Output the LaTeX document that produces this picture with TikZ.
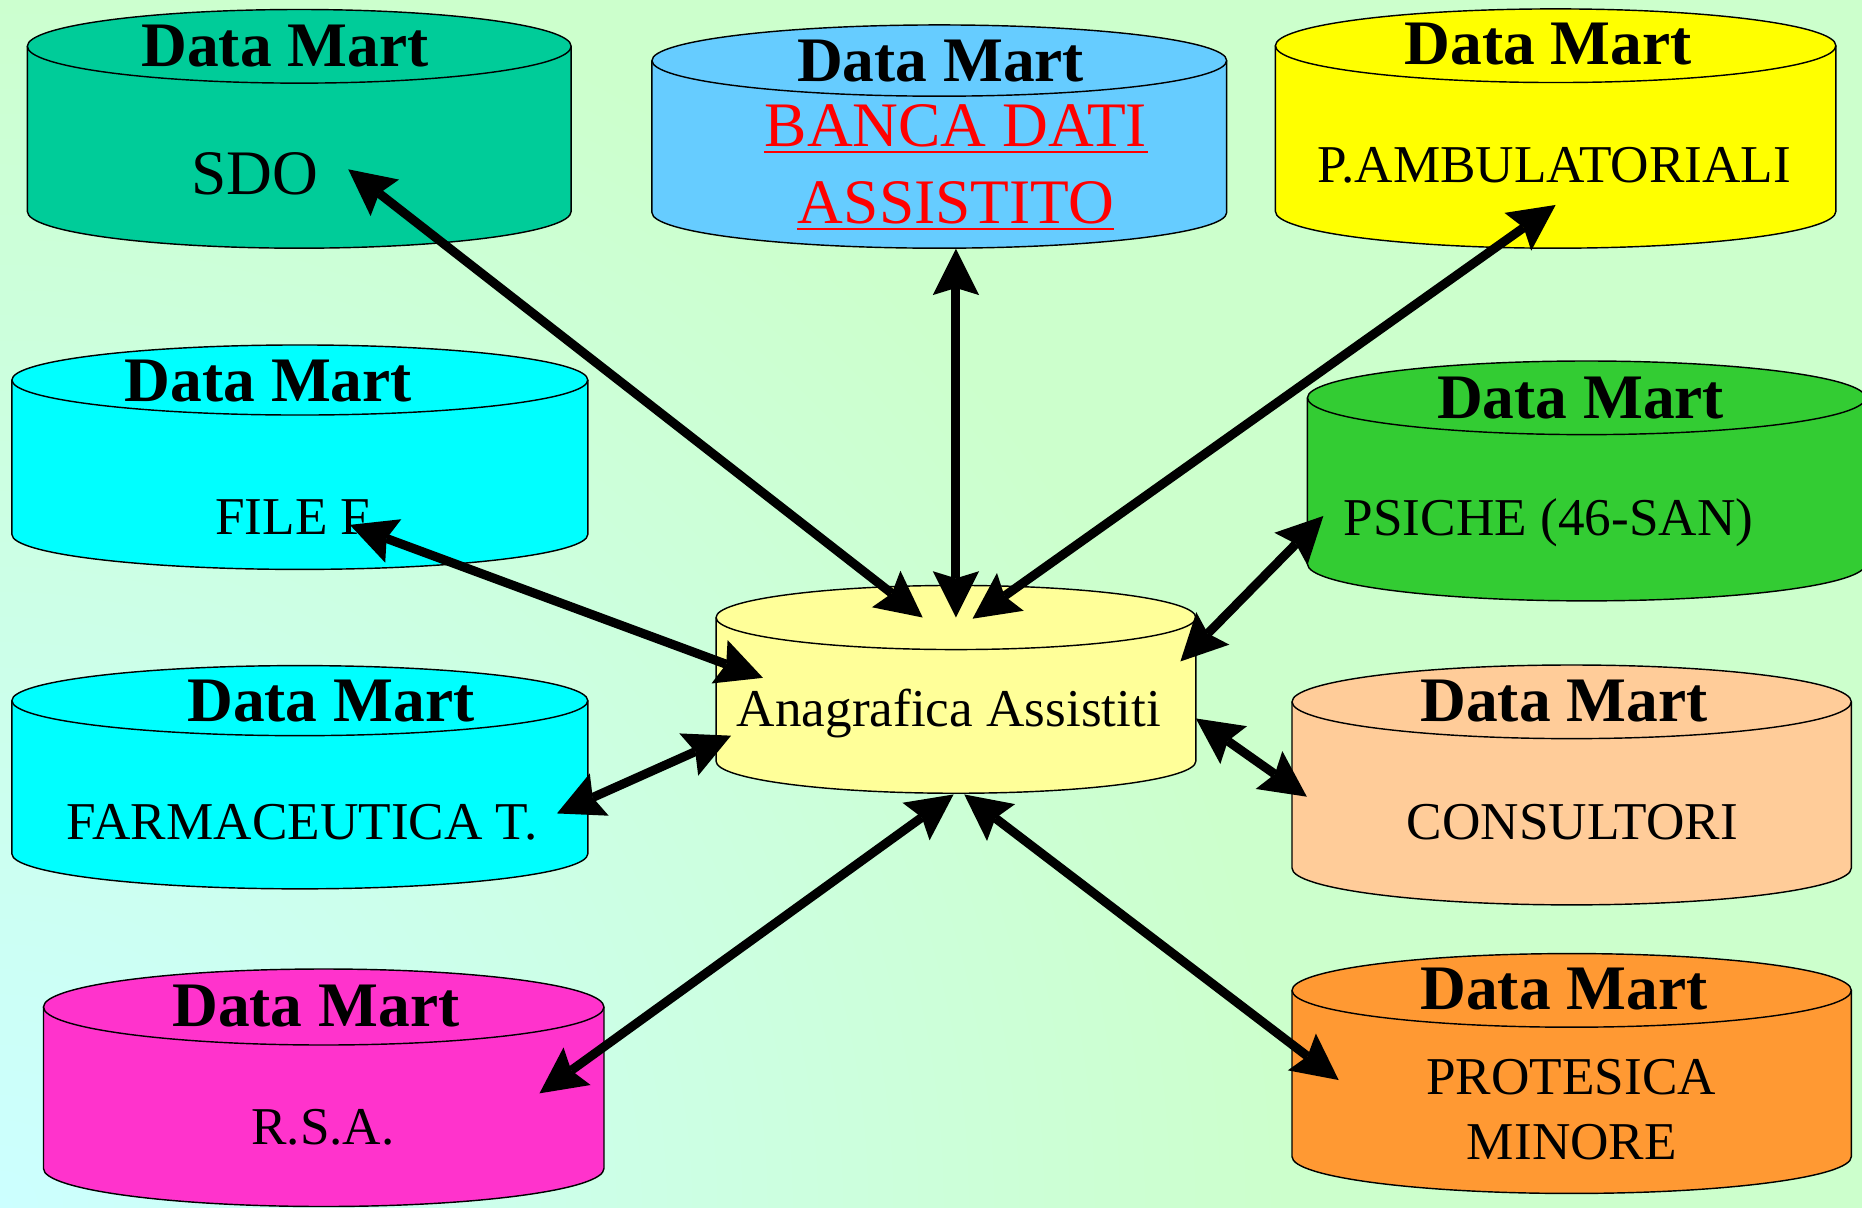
\documentclass[tikz,border=0pt]{standalone}
\usepackage{fontspec}
\setmainfont{Liberation Serif}
\usetikzlibrary{arrows.meta}
\definecolor{bgc}{HTML}{CCFFCC}
\definecolor{bgcy}{HTML}{CCFFFF}
\definecolor{csdo}{HTML}{00CC99}
\definecolor{cban}{HTML}{66CCFF}
\definecolor{camb}{HTML}{FFFF00}
\definecolor{ccyan}{HTML}{00FFFF}
\definecolor{cpsi}{HTML}{33CC33}
\definecolor{cana}{HTML}{FFFF99}
\definecolor{ccons}{HTML}{FFCC99}
\definecolor{crsa}{HTML}{FF33CC}
\definecolor{cprot}{HTML}{FF9933}
\definecolor{cred}{HTML}{FF0000}
\tikzset{
  dm/.style={font=\fontsize{26.7}{30}\selectfont\bfseries, anchor=base, inner sep=0pt},
  lb/.style={font=\fontsize{22.4}{26}\selectfont, anchor=base, inner sep=0pt},
  lbbig/.style={font=\fontsize{26.7}{30}\selectfont, anchor=base, inner sep=0pt},
  cylline/.style={line width=0.6pt, draw=black},
  tipx/.tip={Stealth[length=19.5pt,width=19.5pt,inset=3pt,line width=0pt]},
  link/.style={line width=3.8pt, tipx-tipx},
  uline/.style={draw=cred, line width=0.75pt}
}
% name, cx, rx, yt, yb, ry, colour
\newcommand\dbcyl[7]{%
  \fill[#7] ({#2-#3},{#4}) -- ({#2-#3},{#5})
     arc[start angle=180,end angle=0,x radius=#3,y radius=#6]
     -- ({#2+#3},{#4})
     arc[start angle=0,end angle=-180,x radius=#3,y radius=#6] -- cycle;
  \draw[cylline] ({#2-#3},{#4}) -- ({#2-#3},{#5})
     arc[start angle=180,end angle=0,x radius=#3,y radius=#6]
     -- ({#2+#3},{#4});
  \draw[cylline] (#2,#4) ellipse[x radius=#3,y radius=#6];
  \coordinate (#1) at (#2,{(#4+#5)/2});
}
\begin{document}
\begin{tikzpicture}[x=0.5pt,y=-0.5pt]
\useasboundingbox (0,0) rectangle (1568,1017);
\begin{scope}
  \clip (0,0) rectangle (1568,1017);
  \fill[bgc] (0,0) rectangle (1568,1017);
  \shade[inner color=bgcy, outer color=bgc] (0,1017) circle (1080);
\end{scope}

% cylinders
\dbcyl{sdo}{252}{229}{39}{178}{31}{csdo}
\dbcyl{ban}{791}{242}{51}{179}{30}{cban}
\dbcyl{amb}{1310}{236}{38.5}{178}{31}{camb}
\dbcyl{fil}{252.5}{242.5}{320}{450}{29.5}{ccyan}
\dbcyl{psi}{1336}{235}{335}{475}{31}{cpsi}
\dbcyl{ana}{805}{202}{520}{641}{27}{cana}
\dbcyl{far}{252.5}{242.5}{590}{719}{29.5}{ccyan}
\dbcyl{con}{1323.5}{235.5}{591}{731}{31}{ccons}
\dbcyl{pro}{1323.5}{235.5}{834}{974}{31}{cprot}
\dbcyl{rsa}{272.6}{236}{848}{984}{32}{crsa}

% texts
\node[dm] (sdo-t) at (240,56) {Data Mart};
\node[lbbig] (sdo-l) at (214.5,164) {SDO};
\node[dm] (ban-t) at (792,69) {Data Mart};
\node[lbbig, text=cred] (ban-l1) at (805,123.5) {BANCA DATI};
\node[lbbig, text=cred] (ban-l2) at (805,188) {ASSISTITO};
\draw[uline] ([yshift=-2.3pt]ban-l1.base west) -- ([yshift=-2.3pt]ban-l1.base east);
\draw[uline] ([yshift=-2.3pt]ban-l2.base west) -- ([yshift=-2.3pt]ban-l2.base east);
\node[dm] (amb-t) at (1303.6,54.7) {Data Mart};
\node[lb] (amb-l) at (1309,154) {P.AMBULATORIALI};
\node[dm] (fil-t) at (226,338) {Data Mart};
\node[lb] (fil-l) at (246.7,450.5) {FILE F};
\node[dm] (psi-t) at (1331,352) {Data Mart};
\node[lb] (psi-l) at (1304,450.6) {PSICHE (46-SAN)};
\node[lb] (ana-l) at (799,612) {Anagrafica Assistiti};
\node[dm] (far-t) at (278.6,607.7) {Data Mart};
\node[lb] (far-l) at (254.6,707) {FARMACEUTICA T.};
\node[dm] (con-t) at (1317,607.7) {Data Mart};
\node[lb] (con-l) at (1324,707) {CONSULTORI};
\node[dm] (pro-t) at (1317,850.5) {Data Mart};
\node[lb] (pro-l1) at (1323,922) {PROTESICA};
\node[lb] (pro-l2) at (1323.7,976.8) {MINORE};
\node[dm] (rsa-t) at (266,864.6) {Data Mart};
\node[lb] (rsa-l) at (272,964) {R.S.A.};

% connector end points
\coordinate (sdo-p) at (293.3,142.6);
\coordinate (ana-sdo) at (777,520);
\coordinate (ban-p) at (805,209.5);
\coordinate (ana-ban) at (805,520);
\coordinate (amb-p) at (1310,172.6);
\coordinate (ana-amb) at (819,521);
\coordinate (fil-p) at (294.6,442);
\coordinate (ana-fil) at (642.5,570.8);
\coordinate (psi-p) at (1114.4,434.5);
\coordinate (ana-psi) at (994,557);
\coordinate (far-p) at (469,685);
\coordinate (ana-far) at (615.6,619.5);
\coordinate (con-p) at (1100.5,670.9);
\coordinate (ana-con) at (1007,605);
\coordinate (rsa-p) at (454.3,920.7);
\coordinate (ana-rsa) at (803,669);
\coordinate (pro-p) at (1127.3,909.5);
\coordinate (ana-pro) at (812,669);

\draw[link] (ana-sdo) -- (sdo-p);
\draw[link] (ana-ban) -- (ban-p);
\draw[link] (ana-amb) -- (amb-p);
\draw[link] (ana-fil) -- (fil-p);
\draw[link] (ana-psi) -- (psi-p);
\draw[link] (ana-far) -- (far-p);
\draw[link] (ana-con) -- (con-p);
\draw[link] (ana-rsa) -- (rsa-p);
\draw[link] (ana-pro) -- (pro-p);
\end{tikzpicture}
\end{document}
